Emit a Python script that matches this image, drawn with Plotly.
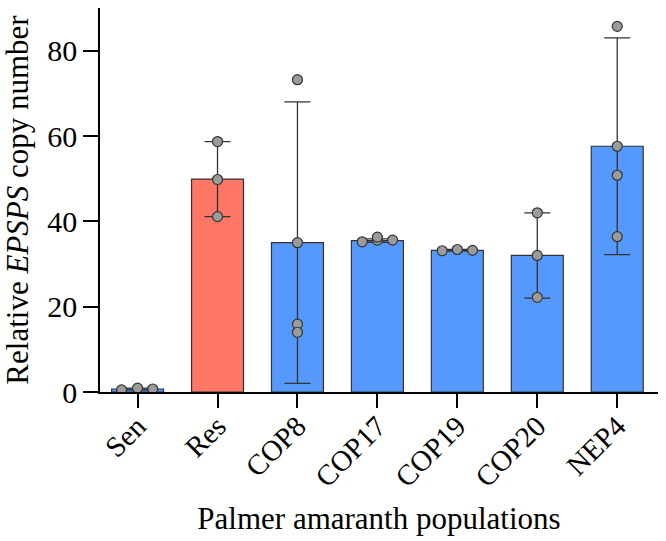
import plotly.graph_objects as go

categories = ["Sen", "Res", "COP8", "COP17", "COP19", "COP20", "NEP4"]
means = [0.7, 49.9, 35.0, 35.5, 33.2, 32.0, 57.6]
sds = [0.2, 8.8, 33.0, 0.4, 0.2, 10.0, 25.4]
points = [
    [0.5, 0.9, 0.7],
    [58.7, 49.8, 41.1],
    [73.2, 35.0, 15.9, 14.0],
    [35.2, 35.6, 36.3, 35.6],
    [33.1, 33.4, 33.2],
    [42.0, 32.0, 22.2],
    [85.7, 57.6, 50.8, 36.4],
]
# horizontal jitter of the dots (layout only)
offsets = [
    [-0.2, 0.0, 0.19],
    [0, 0, 0],
    [0, 0, 0, 0],
    [-0.19, 0.0, 0.0, 0.19],
    [-0.19, 0.0, 0.19],
    [0, 0, 0],
    [0, 0, 0, 0],
]
bar_colors = ["#5599FF", "#FF7566", "#5599FF", "#5599FF", "#5599FF", "#5599FF", "#5599FF"]

xs = list(range(len(categories)))
fig = go.Figure()
fig.add_trace(go.Bar(
    x=xs, y=means, width=0.65,
    marker=dict(color=bar_colors, line=dict(color="#333333", width=1.2)),
    error_y=dict(type="data", array=sds, visible=True, color="#333333", thickness=1.3, width=13),
    showlegend=False,
))
px, py = [], []
for i, (vals, offs) in enumerate(zip(points, offsets)):
    for v, o in zip(vals, offs):
        px.append(i + o)
        py.append(v)
fig.add_trace(go.Scatter(
    x=px, y=py, mode="markers",
    marker=dict(size=10, color="#9B9B9B", line=dict(color="#333333", width=1.2)),
    showlegend=False,
))

font = "Liberation Serif, Times New Roman, serif"
fig.update_layout(
    template="none",
    width=666, height=541,
    margin=dict(l=100, r=8, t=8, b=149),
    plot_bgcolor="white", paper_bgcolor="white",
    font=dict(family=font, color="black", size=30),
    xaxis=dict(
        automargin=False,
        range=[-0.47, 6.51], tickmode="array", tickvals=xs, ticktext=categories,
        tickangle=-45, showline=True, linecolor="black", linewidth=1.5,
        ticks="outside", ticklen=14, tickwidth=1.5, tickcolor="black",
        ticklabelstandoff=-10,
        showgrid=False, zeroline=False, tickfont=dict(size=29),
        title=dict(text="Palmer amaranth populations", font=dict(size=31), standoff=15),
    ),
    yaxis=dict(
        automargin=False,
        range=[0, 90], tickvals=[0, 20, 40, 60, 80], showline=True, linecolor="black",
        linewidth=1.5, ticks="outside", ticklen=15, tickwidth=1.5, tickcolor="black",
        showgrid=False, zeroline=False, tickfont=dict(size=30),
        title=dict(text="Relative <i>EPSPS</i> copy number", font=dict(size=31), standoff=10),
    ),
)
fig.write_html("out.html", config={"displayModeBar": False},
               post_script="document.body.style.margin='0';")
